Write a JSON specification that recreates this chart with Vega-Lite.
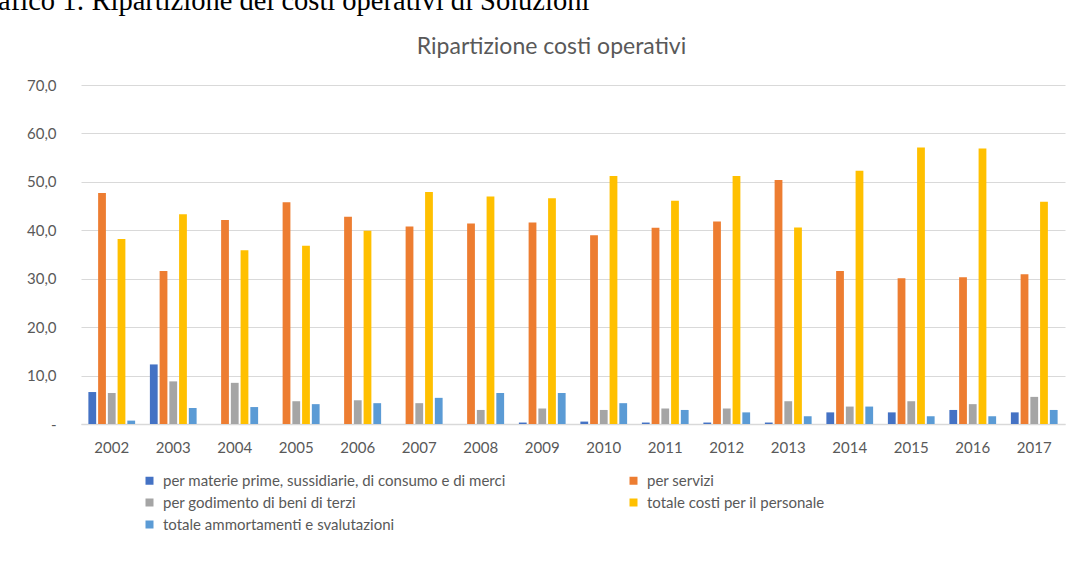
{
  "$schema": "https://vega.github.io/schema/vega-lite/v6.json",
  "width": 984,
  "height": 339,
  "autosize": {"type": "none"},
  "padding": {"left": 81, "top": 85, "right": 14, "bottom": 144},
  "background": "white",
  "title": {
    "text": "Grafico 1: Ripartizione dei costi operativi di Soluzioni",
    "anchor": "start",
    "frame": "group",
    "font": "Liberation Serif",
    "fontSize": 28.5,
    "fontWeight": "normal",
    "color": "#000000",
    "dx": -113,
    "dy": -20,
    "offset": 0
  },
  "data": {
    "values": [
      {"anno": "2002", "voce": "per materie prime, sussidiarie, di consumo e di merci", "valore": 6.6},
      {"anno": "2002", "voce": "per servizi", "valore": 47.7},
      {"anno": "2002", "voce": "per godimento di beni di terzi", "valore": 6.4},
      {"anno": "2002", "voce": "totale costi per il personale", "valore": 38.2},
      {"anno": "2002", "voce": "totale ammortamenti e svalutazioni", "valore": 0.7},
      {"anno": "2003", "voce": "per materie prime, sussidiarie, di consumo e di merci", "valore": 12.3},
      {"anno": "2003", "voce": "per servizi", "valore": 31.6},
      {"anno": "2003", "voce": "per godimento di beni di terzi", "valore": 8.8},
      {"anno": "2003", "voce": "totale costi per il personale", "valore": 43.3},
      {"anno": "2003", "voce": "totale ammortamenti e svalutazioni", "valore": 3.3},
      {"anno": "2004", "voce": "per materie prime, sussidiarie, di consumo e di merci", "valore": 0},
      {"anno": "2004", "voce": "per servizi", "valore": 42.1},
      {"anno": "2004", "voce": "per godimento di beni di terzi", "valore": 8.5},
      {"anno": "2004", "voce": "totale costi per il personale", "valore": 35.9},
      {"anno": "2004", "voce": "totale ammortamenti e svalutazioni", "valore": 3.5},
      {"anno": "2005", "voce": "per materie prime, sussidiarie, di consumo e di merci", "valore": 0},
      {"anno": "2005", "voce": "per servizi", "valore": 45.8},
      {"anno": "2005", "voce": "per godimento di beni di terzi", "valore": 4.7},
      {"anno": "2005", "voce": "totale costi per il personale", "valore": 36.8},
      {"anno": "2005", "voce": "totale ammortamenti e svalutazioni", "valore": 4.1},
      {"anno": "2006", "voce": "per materie prime, sussidiarie, di consumo e di merci", "valore": 0},
      {"anno": "2006", "voce": "per servizi", "valore": 42.8},
      {"anno": "2006", "voce": "per godimento di beni di terzi", "valore": 4.9},
      {"anno": "2006", "voce": "totale costi per il personale", "valore": 39.9},
      {"anno": "2006", "voce": "totale ammortamenti e svalutazioni", "valore": 4.3},
      {"anno": "2007", "voce": "per materie prime, sussidiarie, di consumo e di merci", "valore": 0},
      {"anno": "2007", "voce": "per servizi", "valore": 40.8},
      {"anno": "2007", "voce": "per godimento di beni di terzi", "valore": 4.3},
      {"anno": "2007", "voce": "totale costi per il personale", "valore": 47.9},
      {"anno": "2007", "voce": "totale ammortamenti e svalutazioni", "valore": 5.4},
      {"anno": "2008", "voce": "per materie prime, sussidiarie, di consumo e di merci", "valore": 0},
      {"anno": "2008", "voce": "per servizi", "valore": 41.4},
      {"anno": "2008", "voce": "per godimento di beni di terzi", "valore": 2.9},
      {"anno": "2008", "voce": "totale costi per il personale", "valore": 47.0},
      {"anno": "2008", "voce": "totale ammortamenti e svalutazioni", "valore": 6.4},
      {"anno": "2009", "voce": "per materie prime, sussidiarie, di consumo e di merci", "valore": 0.3},
      {"anno": "2009", "voce": "per servizi", "valore": 41.6},
      {"anno": "2009", "voce": "per godimento di beni di terzi", "valore": 3.2},
      {"anno": "2009", "voce": "totale costi per il personale", "valore": 46.6},
      {"anno": "2009", "voce": "totale ammortamenti e svalutazioni", "valore": 6.4},
      {"anno": "2010", "voce": "per materie prime, sussidiarie, di consumo e di merci", "valore": 0.5},
      {"anno": "2010", "voce": "per servizi", "valore": 39.0},
      {"anno": "2010", "voce": "per godimento di beni di terzi", "valore": 2.9},
      {"anno": "2010", "voce": "totale costi per il personale", "valore": 51.2},
      {"anno": "2010", "voce": "totale ammortamenti e svalutazioni", "valore": 4.3},
      {"anno": "2011", "voce": "per materie prime, sussidiarie, di consumo e di merci", "valore": 0.3},
      {"anno": "2011", "voce": "per servizi", "valore": 40.5},
      {"anno": "2011", "voce": "per godimento di beni di terzi", "valore": 3.2},
      {"anno": "2011", "voce": "totale costi per il personale", "valore": 46.1},
      {"anno": "2011", "voce": "totale ammortamenti e svalutazioni", "valore": 2.9},
      {"anno": "2012", "voce": "per materie prime, sussidiarie, di consumo e di merci", "valore": 0.3},
      {"anno": "2012", "voce": "per servizi", "valore": 41.8},
      {"anno": "2012", "voce": "per godimento di beni di terzi", "valore": 3.2},
      {"anno": "2012", "voce": "totale costi per il personale", "valore": 51.2},
      {"anno": "2012", "voce": "totale ammortamenti e svalutazioni", "valore": 2.4},
      {"anno": "2013", "voce": "per materie prime, sussidiarie, di consumo e di merci", "valore": 0.3},
      {"anno": "2013", "voce": "per servizi", "valore": 50.4},
      {"anno": "2013", "voce": "per godimento di beni di terzi", "valore": 4.7},
      {"anno": "2013", "voce": "totale costi per il personale", "valore": 40.6},
      {"anno": "2013", "voce": "totale ammortamenti e svalutazioni", "valore": 1.6},
      {"anno": "2014", "voce": "per materie prime, sussidiarie, di consumo e di merci", "valore": 2.4},
      {"anno": "2014", "voce": "per servizi", "valore": 31.6},
      {"anno": "2014", "voce": "per godimento di beni di terzi", "valore": 3.6},
      {"anno": "2014", "voce": "totale costi per il personale", "valore": 52.3},
      {"anno": "2014", "voce": "totale ammortamenti e svalutazioni", "valore": 3.6},
      {"anno": "2015", "voce": "per materie prime, sussidiarie, di consumo e di merci", "valore": 2.4},
      {"anno": "2015", "voce": "per servizi", "valore": 30.1},
      {"anno": "2015", "voce": "per godimento di beni di terzi", "valore": 4.7},
      {"anno": "2015", "voce": "totale costi per il personale", "valore": 57.1},
      {"anno": "2015", "voce": "totale ammortamenti e svalutazioni", "valore": 1.6},
      {"anno": "2016", "voce": "per materie prime, sussidiarie, di consumo e di merci", "valore": 2.9},
      {"anno": "2016", "voce": "per servizi", "valore": 30.3},
      {"anno": "2016", "voce": "per godimento di beni di terzi", "valore": 4.1},
      {"anno": "2016", "voce": "totale costi per il personale", "valore": 56.9},
      {"anno": "2016", "voce": "totale ammortamenti e svalutazioni", "valore": 1.6},
      {"anno": "2017", "voce": "per materie prime, sussidiarie, di consumo e di merci", "valore": 2.4},
      {"anno": "2017", "voce": "per servizi", "valore": 30.9},
      {"anno": "2017", "voce": "per godimento di beni di terzi", "valore": 5.6},
      {"anno": "2017", "voce": "totale costi per il personale", "valore": 45.9},
      {"anno": "2017", "voce": "totale ammortamenti e svalutazioni", "valore": 2.9}
    ]
  },
  "mark": {"type": "bar"},
  "encoding": {
    "x": {
      "field": "anno",
      "type": "nominal",
      "sort": null,
      "scale": {"paddingInner": 0.24, "paddingOuter": 0.12},
      "axis": {
        "title": null,
        "labelAngle": 0,
        "labelFont": "Lato",
        "labelFontSize": 15,
        "labelColor": "#595959",
        "labelPadding": 16,
        "ticks": false,
        "domainColor": "#d9d9d9",
        "domainWidth": 1.5
      }
    },
    "xOffset": {
      "field": "voce",
      "type": "nominal",
      "sort": null,
      "scale": {"paddingInner": 0.2}
    },
    "y": {
      "field": "valore",
      "type": "quantitative",
      "scale": {"domain": [0, 70]},
      "axis": {
        "values": [0, 10, 20, 30, 40, 50, 60, 70],
        "labelExpr": "datum.value == 0 ? '-' : replace(format(datum.value, '.1f'), '.', ',')",
        "labelFont": "Lato",
        "labelFontSize": 15,
        "labelColor": "#595959",
        "labelPadding": 25,
        "ticks": false,
        "domain": false,
        "gridColor": "#d9d9d9",
        "gridWidth": 1,
        "title": "Ripartizione costi operativi",
        "titleAngle": 0,
        "titleAlign": "center",
        "titleBaseline": "middle",
        "titleX": 470,
        "titleY": -39,
        "titleFont": "Lato",
        "titleFontSize": 23,
        "titleFontWeight": "normal",
        "titleColor": "#595959"
      }
    },
    "color": {
      "field": "voce",
      "type": "nominal",
      "sort": null,
      "scale": {
        "domain": [
          "per materie prime, sussidiarie, di consumo e di merci",
          "per servizi",
          "per godimento di beni di terzi",
          "totale costi per il personale",
          "totale ammortamenti e svalutazioni"
        ],
        "range": ["#4472C4", "#ED7D31", "#A5A5A5", "#FFC000", "#5B9BD5"]
      },
      "legend": {
        "title": null,
        "orient": "none",
        "legendX": 61,
        "legendY": 388,
        "direction": "horizontal",
        "columns": 2,
        "columnPadding": 120,
        "rowPadding": 6,
        "symbolType": "square",
        "symbolSize": 64,
        "symbolStrokeWidth": 0,
        "labelFont": "Lato",
        "labelFontSize": 15,
        "labelColor": "#595959",
        "labelLimit": 500,
        "labelOffset": 6
      }
    }
  },
  "config": {
    "view": {"stroke": null}
  }
}
